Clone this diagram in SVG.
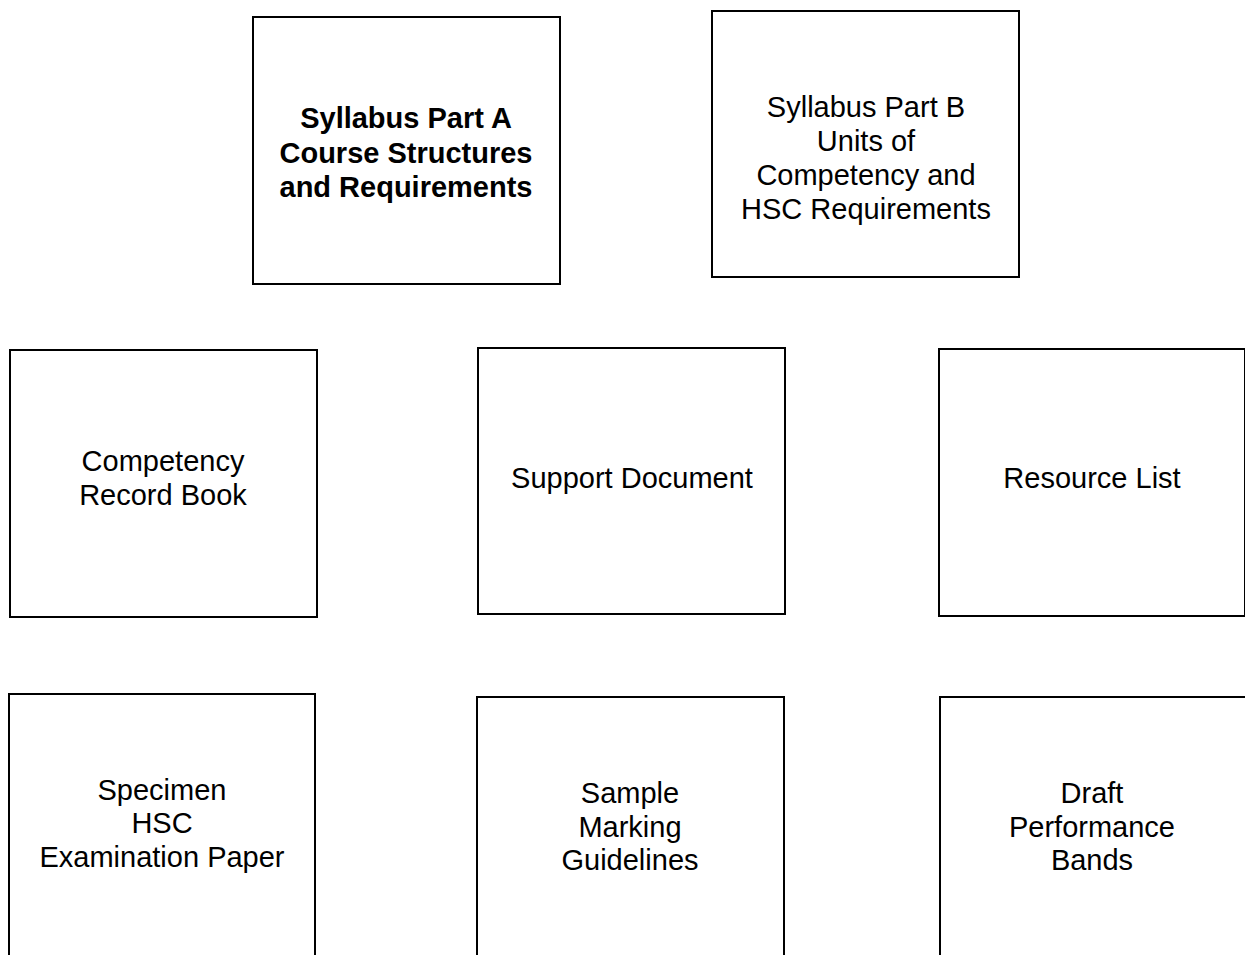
<svg xmlns="http://www.w3.org/2000/svg" width="1245" height="955" viewBox="0 0 1245 955">
<style>
.box{fill:#fff;stroke:#000;stroke-width:2}
text{font-family:"Liberation Sans",Arial,sans-serif;font-size:29px;fill:#000;text-anchor:middle}
.b{font-weight:bold}
</style>
<rect width="1245" height="955" fill="#fff"/>
<g id="syllabus-a"><rect class="box" x="253" y="17" width="307" height="267"/>
<text class="b" x="406" y="128">Syllabus Part A</text>
<text class="b" x="406" y="163">Course Structures</text>
<text class="b" x="406" y="197">and Requirements</text></g>
<g id="syllabus-b"><rect class="box" x="712" y="11" width="307" height="266"/>
<text x="866" y="117">Syllabus Part B</text>
<text x="866" y="151">Units of</text>
<text x="866" y="185">Competency and</text>
<text x="866" y="219">HSC Requirements</text></g>
<g id="competency"><rect class="box" x="10" y="350" width="307" height="267"/>
<text x="163" y="471">Competency</text>
<text x="163" y="505">Record Book</text></g>
<g id="support"><rect class="box" x="478" y="348" width="307" height="266"/>
<text x="632" y="488">Support Document</text></g>
<g id="resource"><rect class="box" x="939" y="349" width="306" height="267"/>
<text x="1092" y="488">Resource List</text></g>
<g id="specimen"><rect class="box" x="9" y="694" width="306" height="280"/>
<text x="162" y="800">Specimen</text>
<text x="162" y="833">HSC</text>
<text x="162" y="867">Examination Paper</text></g>
<g id="sample"><rect class="box" x="477" y="697" width="307" height="280"/>
<text x="630" y="803">Sample</text>
<text x="630" y="837">Marking</text>
<text x="630" y="870">Guidelines</text></g>
<g id="draft"><rect class="box" x="940" y="697" width="306" height="280"/>
<text x="1092" y="803">Draft</text>
<text x="1092" y="837">Performance</text>
<text x="1092" y="870">Bands</text></g>
<g id="connectors"></g>
</svg>
